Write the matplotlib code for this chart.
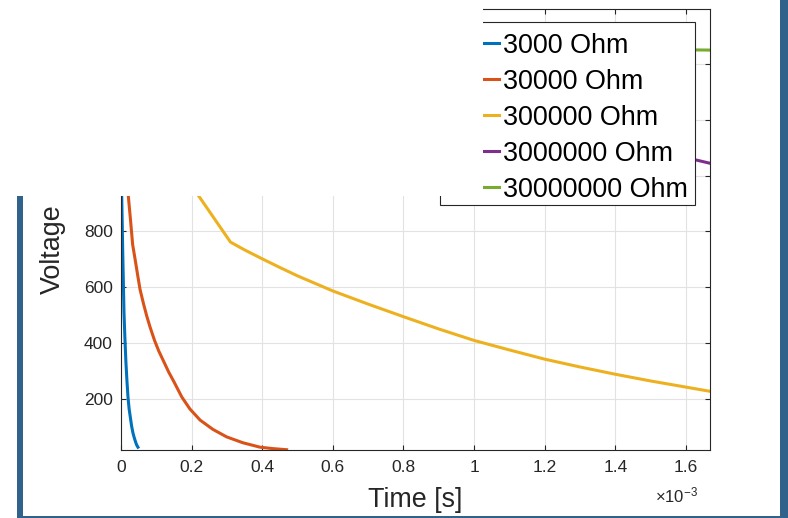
import matplotlib
matplotlib.use("Agg")
import matplotlib.pyplot as plt
from matplotlib.patches import Rectangle
from matplotlib.ticker import FuncFormatter, MultipleLocator

plt.rcParams['font.family'] = ['Liberation Sans', 'DejaVu Sans']
plt.rcParams['mathtext.fontset'] = 'custom'
plt.rcParams['mathtext.rm'] = 'Liberation Sans'
plt.rcParams['mathtext.it'] = 'Liberation Sans'

# time in ms (axis shows x10^-3 s), voltage in V
blue_t = [0.000, 0.002, 0.005, 0.0085, 0.011, 0.014, 0.017, 0.0198, 0.023, 0.027,
          0.030, 0.034, 0.038, 0.041, 0.044, 0.048]
blue_v = [1500, 930, 720, 509, 420, 330, 262, 207, 165, 130,
          104, 78, 60, 48, 37, 28]

orange_t = [0.000, 0.0207, 0.027, 0.033, 0.040, 0.047, 0.054, 0.064, 0.073, 0.082,
            0.095, 0.107, 0.119, 0.135, 0.150, 0.172, 0.195, 0.224, 0.260, 0.299,
            0.345, 0.394, 0.430, 0.469]
orange_v = [1450, 927, 840, 753, 700, 645, 592, 540, 497, 459,
            410, 372, 340, 297, 262, 208, 165, 125, 92, 65,
            44, 28, 23, 19]

yellow_t = [0.000, 0.219, 0.310, 0.350, 0.400, 0.450, 0.500, 0.600, 0.700, 0.800,
            0.900, 1.000, 1.100, 1.200, 1.300, 1.400, 1.500, 1.600, 1.668]
yellow_v = [1450, 929, 762, 734, 702, 671, 641, 587, 540, 495,
            451, 410, 376, 343, 315, 289, 265, 243, 228]

purple_t = [0.000, 0.500, 1.000, 1.631, 1.668]
purple_v = [1500, 1330, 1190, 1055, 1044]

green_t = [0.000, 1.668]
green_v = [1471, 1449]

labels = ['3000 Ohm', '30000 Ohm', '300000 Ohm', '3000000 Ohm', '30000000 Ohm']
colors = ['#0072BD', '#D95319', '#EDB120', '#7E2F8E', '#77AC30']
series = [(blue_t, blue_v), (orange_t, orange_v), (yellow_t, yellow_v),
          (purple_t, purple_v), (green_t, green_v)]

W, H = 788, 518
fig = plt.figure(figsize=(W / 100, H / 100), dpi=100)
ax = fig.add_axes([121 / W, 1 - 450 / H, (710 - 121) / W, (450 - 9) / H])

for (t, v), c, lab in zip(series, colors, labels):
    ax.plot(t, v, color=c, lw=2.2, label=lab, solid_joinstyle='round')

ax.set_xlim(0, 1.668)
ax.set_ylim(18, 1596)
ax.xaxis.set_major_locator(MultipleLocator(0.2))
ax.yaxis.set_major_locator(MultipleLocator(200))
ax.xaxis.set_major_formatter(FuncFormatter(lambda x, p: '%g' % round(x, 3)))

dark = '#262626'
ax.grid(True, color='#e2e2e2', lw=0.8)
ax.set_axisbelow(True)
for s in ax.spines.values():
    s.set_color(dark)
    s.set_linewidth(0.8)
ax.tick_params(direction='in', length=3.6, width=0.8, colors=dark,
               labelsize=12.5, top=True, right=True)
ax.tick_params(axis='x', pad=7.5)
ax.tick_params(axis='y', pad=5.8)

ax.set_xlabel('Time [s]', fontsize=19.4, color=dark)
ax.xaxis.label.set_va('center')
ax.xaxis.set_label_coords(0.5, (450 - 500) / 441)
ax.set_ylabel('Voltage', fontsize=19.4, color=dark)
ax.yaxis.label.set_va('center')
ax.yaxis.set_label_coords((53 - 121) / 589, (450 - 249) / 441)
ax.text((698 - 121) / 589, (450 - 495) / 441, r'$\times10^{-3}$', transform=ax.transAxes,
        ha='right', va='center', fontsize=12, color=dark)

# legend box drawn separately so the entries can sit a bit low in it, as in the original
ax.add_patch(Rectangle((440 / W, 1 - 205 / H), (695 - 440) / W, (205 - 22) / H,
                       transform=fig.transFigure, facecolor='white', edgecolor=dark,
                       lw=0.8, zorder=4.5, clip_on=False))
leg = ax.legend(loc='upper right', bbox_to_anchor=(695 / W, 1 - 26 / H),
                bbox_transform=fig.transFigure, borderaxespad=0, fontsize=19.4,
                frameon=False, borderpad=0.25, handlelength=2.0,
                handletextpad=0.15, labelspacing=0.37)

# window parts around the figure
bar = '#30628c'
fig.patches.append(Rectangle((0, 1 - 196 / H), 483 / W, 196 / H, transform=fig.transFigure,
                             facecolor='white', edgecolor='none', zorder=50))
fig.patches.append(Rectangle((17 / W, 0), 6 / W, 1 - 196 / H, transform=fig.transFigure,
                             facecolor=bar, edgecolor='none', zorder=51))
fig.patches.append(Rectangle((17 / W, 0), 1, 2 / H, transform=fig.transFigure,
                             facecolor=bar, edgecolor='none', zorder=51))
fig.patches.append(Rectangle((780 / W, 0), 8 / W, 1, transform=fig.transFigure,
                             facecolor=bar, edgecolor='none', zorder=51))

fig.savefig('out.png', dpi=100, facecolor='white')
